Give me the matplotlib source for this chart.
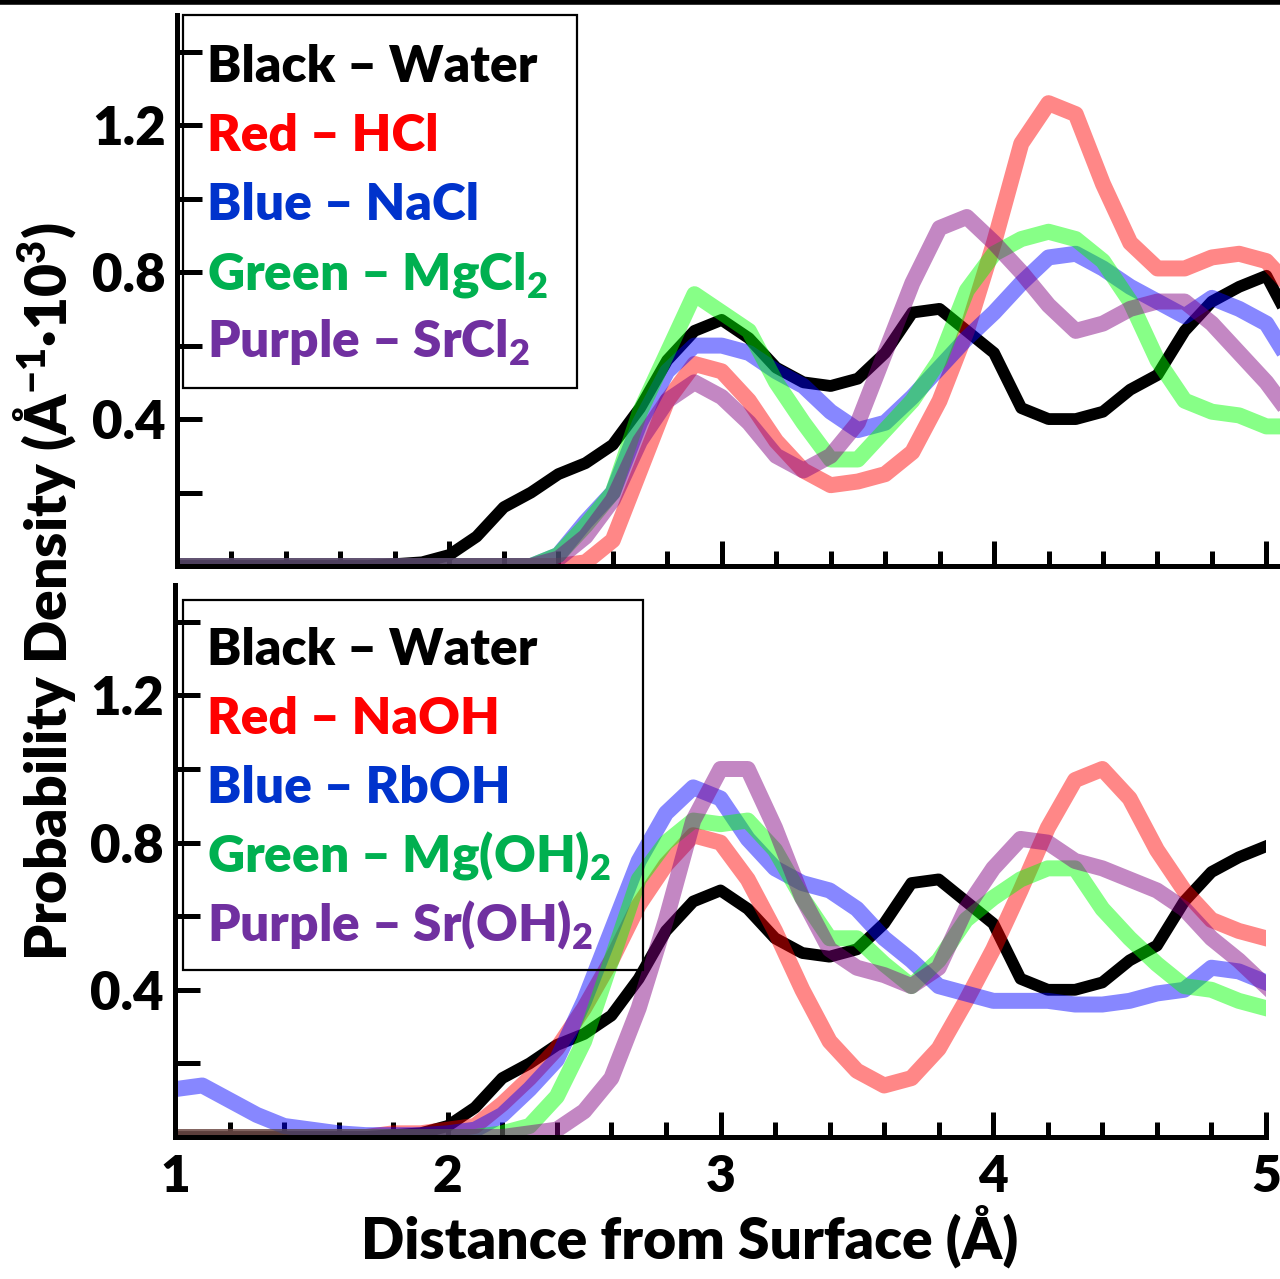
import numpy as np
import matplotlib
matplotlib.use("Agg")
import matplotlib.pyplot as plt
from matplotlib.lines import Line2D
from matplotlib.patches import Rectangle
from matplotlib.ticker import MultipleLocator, FixedLocator

# distance grid (Angstrom)
x = np.round(np.arange(1.0, 5.001, 0.1), 2)
x_top = np.append(x, 5.05)

# ---- top panel: chlorides ----
water = [0, 0, 0, 0, 0, 0, 0, 0, 0.005, 0.01,
         0.03, 0.08, 0.16, 0.20, 0.25, 0.28, 0.33, 0.43, 0.56, 0.64,
         0.67, 0.62, 0.54, 0.50, 0.49, 0.51, 0.58, 0.69, 0.70, 0.64,
         0.58, 0.43, 0.40, 0.40, 0.42, 0.48, 0.52, 0.64, 0.72, 0.76,
         0.79]
water_top = water + [0.72]
hcl = [0, 0, 0, 0, 0, 0, 0, 0, 0, 0,
       0, 0, 0, 0, 0, 0.01, 0.07, 0.26, 0.45, 0.55,
       0.53, 0.45, 0.34, 0.26, 0.22, 0.23, 0.25, 0.31, 0.45, 0.64,
       0.88, 1.15, 1.26, 1.23, 1.04, 0.88, 0.81, 0.81, 0.84, 0.85,
       0.83, 0.79]
nacl = [0, 0, 0, 0, 0, 0, 0, 0, 0, 0,
        0, 0, 0, 0, 0.03, 0.12, 0.20, 0.39, 0.53, 0.60,
        0.60, 0.58, 0.53, 0.49, 0.42, 0.37, 0.39, 0.46, 0.54, 0.62,
        0.69, 0.77, 0.84, 0.85, 0.81, 0.76, 0.72, 0.68, 0.73, 0.70,
        0.66, 0.60]
mgcl2 = [0, 0, 0, 0, 0, 0, 0, 0, 0, 0,
         0, 0, 0, 0, 0.03, 0.11, 0.20, 0.42, 0.58, 0.74,
         0.69, 0.64, 0.50, 0.39, 0.29, 0.29, 0.37, 0.45, 0.56, 0.75,
         0.85, 0.89, 0.91, 0.89, 0.83, 0.72, 0.56, 0.45, 0.42, 0.41,
         0.38, 0.38]
srcl2 = [0, 0, 0, 0, 0, 0, 0, 0, 0, 0,
         0, 0, 0, 0, 0.02, 0.08, 0.18, 0.34, 0.45, 0.50,
         0.46, 0.39, 0.30, 0.26, 0.30, 0.39, 0.58, 0.77, 0.92, 0.95,
         0.88, 0.80, 0.71, 0.64, 0.66, 0.70, 0.72, 0.72, 0.66, 0.58,
         0.50, 0.45]

# ---- bottom panel: hydroxides ----
naoh = [0, 0, 0, 0, 0, 0, 0, 0, 0.01, 0.01,
        0.02, 0.03, 0.09, 0.16, 0.24, 0.35, 0.48, 0.63, 0.74, 0.82,
        0.80, 0.70, 0.56, 0.40, 0.26, 0.18, 0.14, 0.16, 0.24, 0.37,
        0.51, 0.67, 0.84, 0.97, 1.00, 0.92, 0.78, 0.67, 0.59, 0.56,
        0.54]
rboh = [0.13, 0.14, 0.10, 0.06, 0.03, 0.02, 0.01, 0.005, 0.005, 0.005,
        0.01, 0.02, 0.06, 0.13, 0.21, 0.37, 0.56, 0.75, 0.88, 0.95,
        0.92, 0.81, 0.73, 0.69, 0.67, 0.62, 0.54, 0.48, 0.41, 0.39,
        0.37, 0.37, 0.37, 0.36, 0.36, 0.37, 0.39, 0.40, 0.46, 0.45,
        0.42]
mgoh2 = [0, 0, 0, 0, 0, 0, 0, 0, 0, 0,
         0, 0, 0.01, 0.03, 0.11, 0.26, 0.48, 0.70, 0.80, 0.86,
         0.85, 0.86, 0.78, 0.65, 0.54, 0.54, 0.47, 0.41, 0.48, 0.59,
         0.65, 0.70, 0.73, 0.73, 0.62, 0.54, 0.47, 0.41, 0.40, 0.37,
         0.35]
sroh2 = [0, 0, 0, 0, 0, 0, 0, 0, 0, 0,
         0, 0, 0, 0.01, 0.02, 0.07, 0.16, 0.35, 0.59, 0.86,
         1.00, 1.00, 0.84, 0.65, 0.51, 0.46, 0.44, 0.41, 0.46, 0.62,
         0.73, 0.81, 0.80, 0.75, 0.73, 0.70, 0.67, 0.62, 0.54, 0.48,
         0.41]

top_labels = ["Black \u2013 Water", "Red \u2013 HCl", "Blue \u2013 NaCl",
              "Green \u2013 MgCl$_{2}$", "Purple \u2013 SrCl$_{2}$"]
bot_labels = ["Black \u2013 Water", "Red \u2013 NaOH", "Blue \u2013 RbOH",
              "Green \u2013 Mg(OH)$_{2}$", "Purple \u2013 Sr(OH)$_{2}$"]
text_colors = ["#000000", "#ff0000", "#0033cc", "#00b050", "#7030a0"]
line_colors = ["#000000", "#ff0000", "#0000ff", "#00ff00", "#800080"]
ytick_vals = [0.4, 0.8, 1.2]
ytick_labels = ["0.4", "0.8", "1.2"]
xtick_vals = [1, 2, 3, 4, 5]

plt.rcParams["font.family"] = ["Lato", "DejaVu Sans"]
plt.rcParams["font.weight"] = "heavy"
plt.rcParams["mathtext.fontset"] = "custom"
plt.rcParams["mathtext.rm"] = "Lato:heavy"
plt.rcParams["mathtext.it"] = "Lato:heavy"
plt.rcParams["mathtext.bf"] = "Lato:heavy"

W, H = 1280, 1279
fig = plt.figure(figsize=(12.8, 12.79), dpi=100)


def fx(px):
    return px / W


def fy(py):
    return 1 - py / H


def style_axes(ax, xmax, show_xlabels):
    ax.set_xlim(1, xmax)
    ax.set_ylim(0, 1.5)
    for s in ["top", "right"]:
        ax.spines[s].set_visible(False)
    for s in ["left", "bottom"]:
        ax.spines[s].set_linewidth(3.6)
        ax.spines[s].set_zorder(10)
    ax.xaxis.set_major_locator(FixedLocator(xtick_vals))
    ax.xaxis.set_minor_locator(MultipleLocator(0.2))
    ax.yaxis.set_major_locator(FixedLocator(ytick_vals))
    ax.yaxis.set_minor_locator(FixedLocator([0.2, 0.6, 1.0, 1.4]))
    ax.set_yticklabels(ytick_labels)
    ax.tick_params(axis="both", which="both", direction="in", width=3.6,
                   top=False, right=False)
    ax.tick_params(axis="x", which="major", length=18, labelsize=37, pad=12)
    ax.tick_params(axis="x", which="minor", length=11)
    ax.tick_params(axis="y", which="both", length=18, labelsize=38, pad=8)
    for lab in ax.get_xticklabels() + ax.get_yticklabels():
        lab.set_fontweight("heavy")
    if not show_xlabels:
        ax.tick_params(axis="x", labelbottom=False)


def draw_panel(ax, xs, series):
    for i, ys in enumerate(series):
        if i == 0:
            ax.plot(xs[:len(ys)], ys, color=line_colors[0], lw=8.5,
                    solid_joinstyle="round", zorder=2)
        else:
            ax.plot(xs[:len(ys)], ys, color=line_colors[i], lw=11.5,
                    alpha=0.47, solid_joinstyle="round", zorder=3)


def draw_legend(box, baselines, labels):
    x0, y0, x1, y1 = box
    fig.patches.append(Rectangle((fx(x0), fy(y1)), fx(x1) - fx(x0),
                                 fy(y0) - fy(y1), transform=fig.transFigure,
                                 fill=False, edgecolor="black", lw=1.6,
                                 zorder=20))
    for lab, c, b in zip(labels, text_colors, baselines):
        fig.text(fx(207), fy(b), lab, color=c, fontsize=37,
                 fontweight="heavy", ha="left", va="baseline", zorder=21)


ax1 = fig.add_axes([fx(177), fy(566), fx(1280) - fx(177), fy(15) - fy(566)])
draw_panel(ax1, x_top, [water_top, hcl, nacl, mgcl2, srcl2])
style_axes(ax1, 5.05, False)

ax2 = fig.add_axes([fx(175), fy(1137), fx(1266) - fx(175), fy(585) - fy(1137)])
draw_panel(ax2, x, [water, naoh, rboh, mgoh2, sroh2])
style_axes(ax2, 5.0, True)

draw_legend((183, 15, 577, 388), [82, 151, 220, 289, 358], top_labels)
draw_legend((183, 600, 643, 970), [665, 734, 803, 872, 941], bot_labels)

# border line at the very top
fig.lines.append(Line2D([0, 1], [fy(2), fy(2)], transform=fig.transFigure,
                        color="black", lw=4))

fig.text(fx(690), fy(1259), "Distance from Surface (\u00c5)", fontsize=41,
         fontweight="heavy", ha="center", va="baseline")
fig.text(fx(45), fy(592),
         "Probability Density (\u00c5$^{-1}$\u00b710$^{3}$)",
         fontsize=41, fontweight="heavy", rotation=90, ha="center", va="center")

fig.savefig("out.png", dpi=100)
